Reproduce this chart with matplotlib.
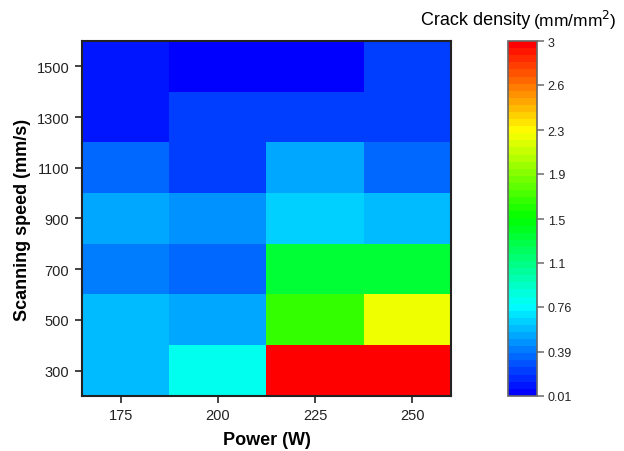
import matplotlib
matplotlib.use("Agg")
import matplotlib.pyplot as plt
import numpy as np
from matplotlib.colors import LinearSegmentedColormap

plt.rcParams["font.family"] = ["Liberation Sans", "DejaVu Sans"]

power = [175, 200, 225, 250]
power_edges = [165, 187.5, 212.5, 237.5, 260]
speed = [300, 500, 700, 900, 1100, 1300, 1500]
speed_edges = [200, 400, 600, 800, 1000, 1200, 1400, 1600]

# crack density (mm/mm^2), rows = speed (300 -> 1500), cols = power
density = [
    [0.57, 0.83, 3.00, 3.00],
    [0.57, 0.51, 1.65, 2.18],
    [0.42, 0.36, 1.33, 1.33],
    [0.49, 0.44, 0.64, 0.57],
    [0.33, 0.20, 0.51, 0.33],
    [0.07, 0.20, 0.20, 0.21],
    [0.07, 0.01, 0.01, 0.19],
]

cbar_ticks = [0.01, 0.38, 0.76, 1.13, 1.5, 1.88, 2.25, 2.63, 3.0]
cbar_labels = ["0.01", "0.39", "0.76", "1.1", "1.5", "1.9", "2.3", "2.6", "3"]

cmap = LinearSegmentedColormap.from_list(
    "origin_rainbow",
    ["#0000ff", "#00ffff", "#00ff00", "#ffff00", "#ff0000"],
    N=50,
)

fig = plt.figure(figsize=(6.24, 4.52), dpi=100)
ax = fig.add_axes([0.131, 0.122, 0.592, 0.785])
cax = fig.add_axes([0.814, 0.122, 0.046, 0.785])

mesh = ax.pcolormesh(power_edges, speed_edges, np.array(density),
                     cmap=cmap, vmin=0.01, vmax=3.0)

ax.set_xlim(power_edges[0], power_edges[-1])
ax.set_ylim(speed_edges[0], speed_edges[-1])
ax.set_xticks(power)
ax.set_yticks(speed)
ax.tick_params(direction="out", length=5, width=1.2, labelsize=10.5,
               colors="#222222", pad=4)
for spine in ax.spines.values():
    spine.set_linewidth(1.5)
    spine.set_color("#222222")

ax.set_xlabel("Power (W)", fontsize=13, fontweight="bold", labelpad=6)
ax.set_ylabel("Scanning speed (mm/s)", fontsize=13, fontweight="bold",
              labelpad=4)

cb = fig.colorbar(mesh, cax=cax)
cb.set_ticks(cbar_ticks)
cb.set_ticklabels(cbar_labels)
cb.ax.tick_params(direction="out", length=5, width=1.2, labelsize=9,
                  colors="#777777", labelcolor="#222222", pad=3)
cb.outline.set_edgecolor("#666666")
cb.outline.set_linewidth(1.2)

fig.text(0.849, 0.955, "Crack density", ha="right", va="center", fontsize=13)
fig.text(0.854, 0.955, "(mm/mm$^2$)", ha="left", va="center", fontsize=12.5)

fig.savefig("out.png", dpi=100)
